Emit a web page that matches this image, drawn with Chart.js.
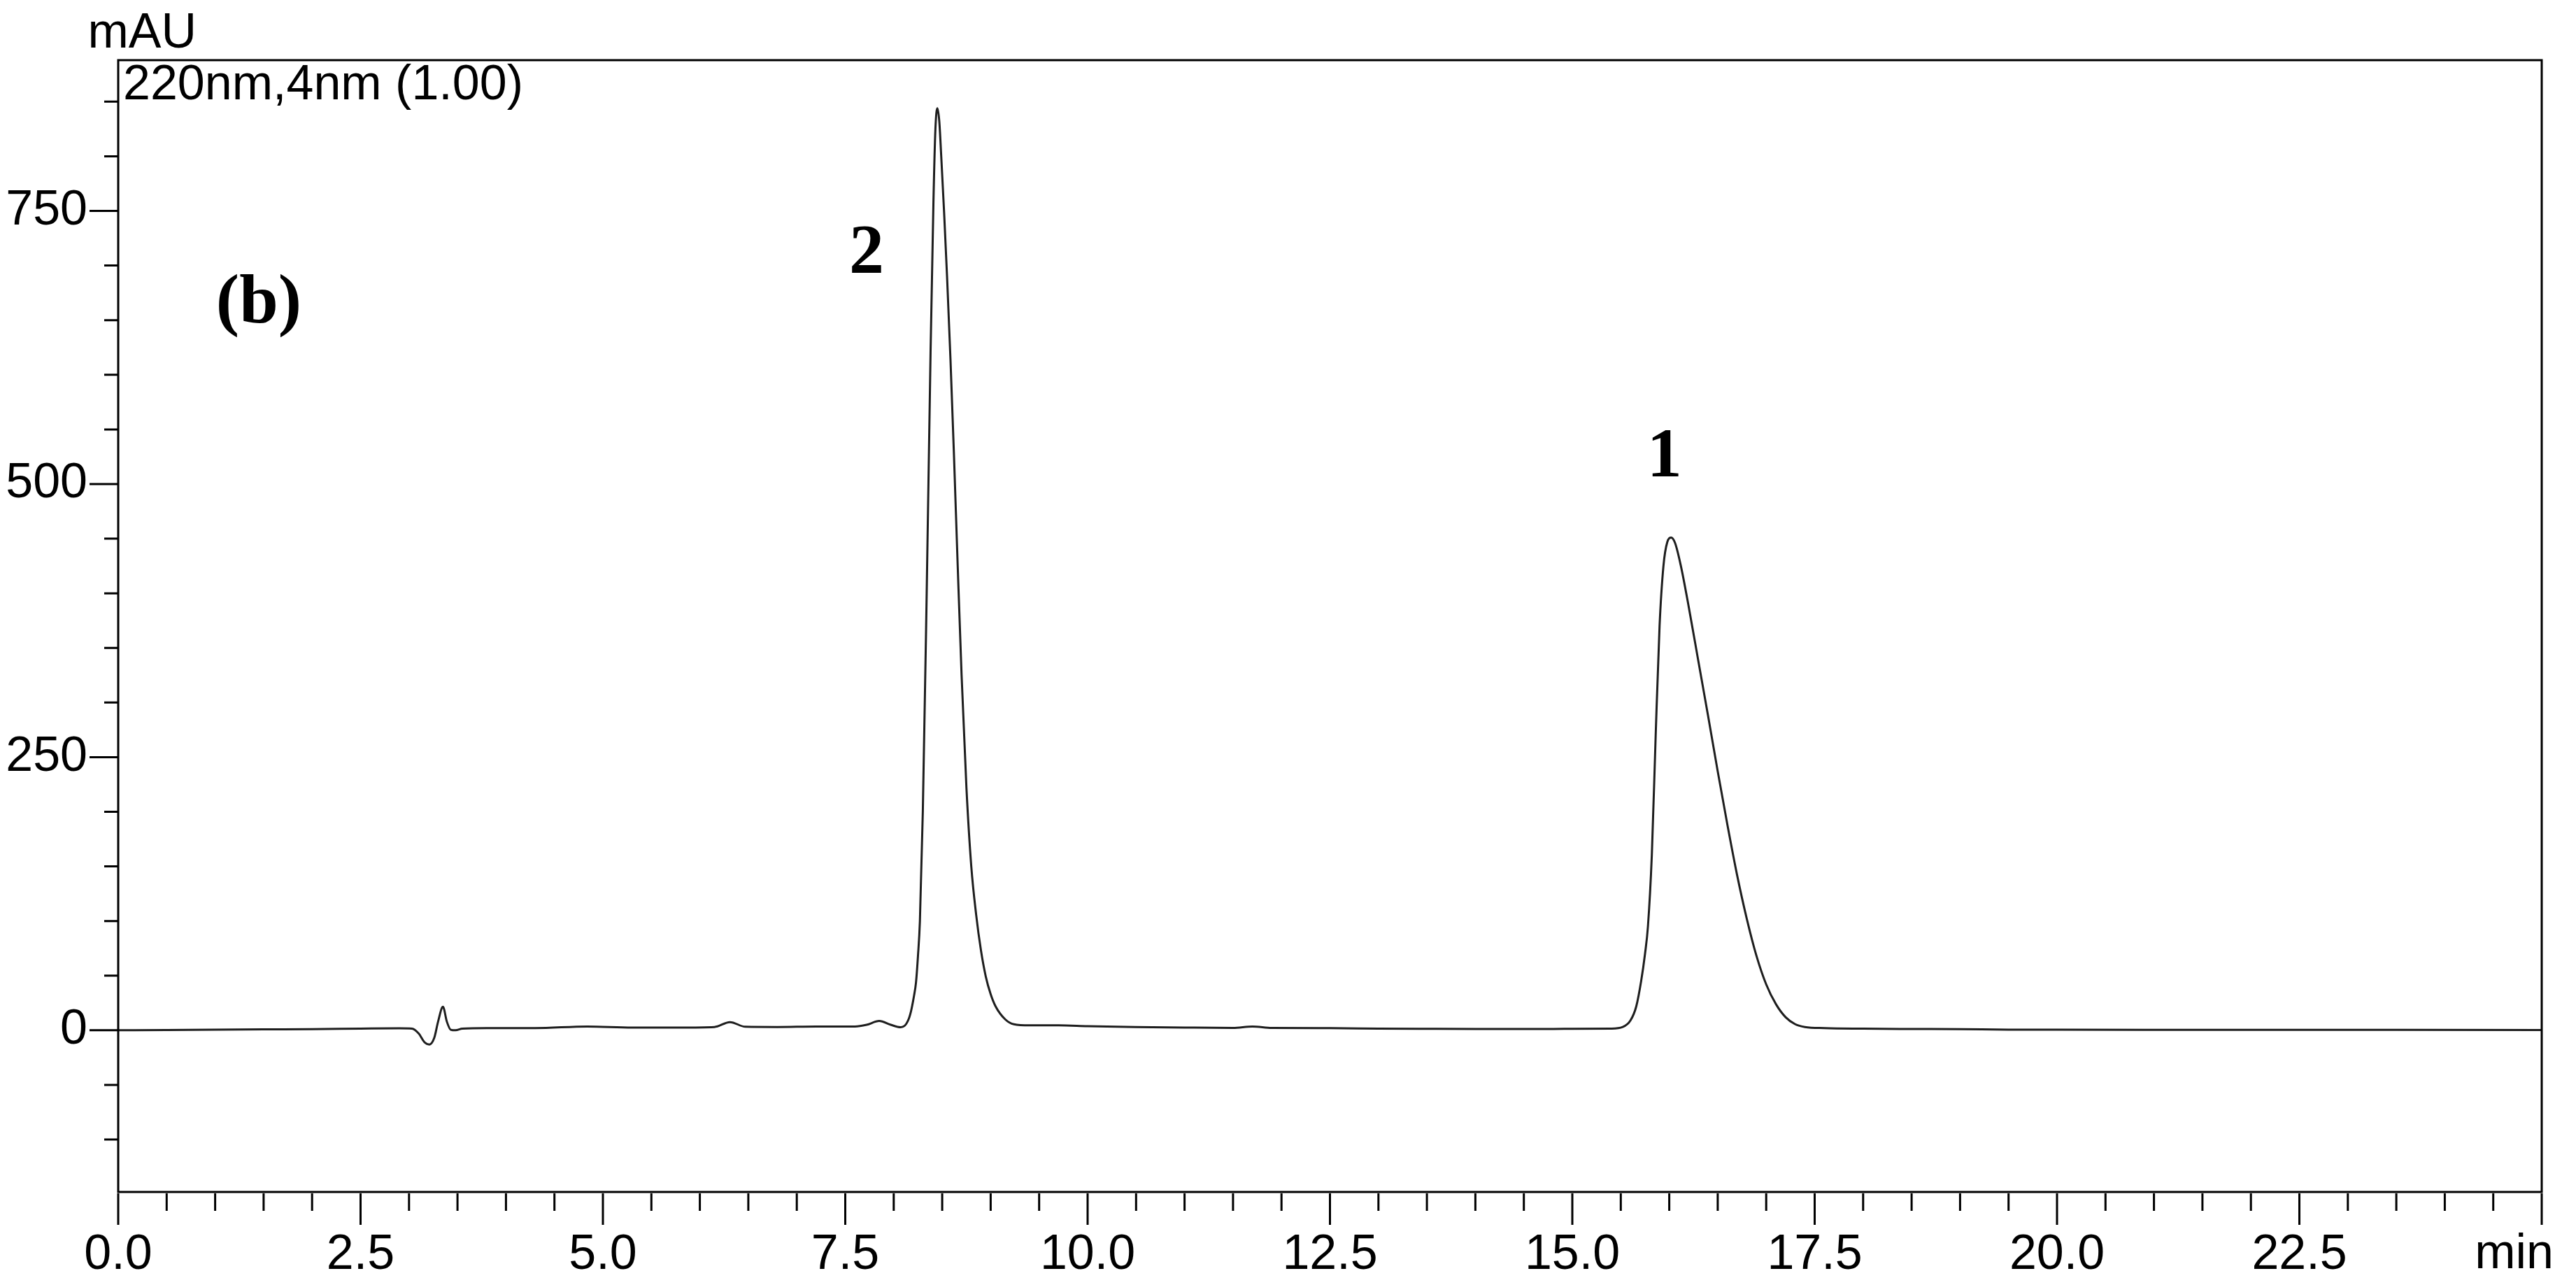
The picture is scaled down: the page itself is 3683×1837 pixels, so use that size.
<!DOCTYPE html>
<html lang="en">
<head>
    <meta charset="UTF-8">
    <title>Chromatogram (b)</title>
    <script src="https://cdn.jsdelivr.net/npm/chart.js"></script>
    <style>
        body {
            margin: 0;
            background-color: #ffffff;
        }
        #chart-container {
            width: 3683px;
            height: 1837px;
        }
    </style>
</head>
<body>

<div id="chart-container">
    <canvas id="chromChart" width="3683" height="1837"></canvas>
</div>

<script>
    // retention time (min) and detector signal (mAU)
    const times = [
        0.0, 0.5, 1.0, 1.5, 2.0, 2.5, 2.9, 3.03, 3.10, 3.16, 3.21, 3.26, 3.30, 3.35, 3.39, 3.43, 3.48, 3.55,
        3.8, 4.3, 4.84, 5.3, 5.8, 6.15, 6.31, 6.47, 6.8, 7.2, 7.6, 7.72, 7.85, 7.97, 8.07, 8.13, 8.17, 8.21,
        8.23, 8.25, 8.27, 8.30, 8.34, 8.38, 8.41, 8.43, 8.45, 8.47, 8.49, 8.52, 8.55, 8.585, 8.62, 8.66, 8.70,
        8.75, 8.80, 8.85, 8.90, 8.95, 9.00, 9.05, 9.15, 9.24, 9.4, 9.7, 10.0, 10.5, 11.0, 11.5, 11.7, 11.9,
        12.5, 13.0, 13.5, 14.0, 14.5, 15.0, 15.4, 15.52, 15.60, 15.66, 15.71, 15.75, 15.78, 15.82, 15.86,
        15.90, 15.94, 15.98, 16.02, 16.06, 16.12, 16.20, 16.30, 16.40, 16.50, 16.60, 16.70, 16.80, 16.90,
        17.00, 17.10, 17.20, 17.30, 17.40, 17.6, 18.0, 18.5, 19.0, 19.5, 20.0, 22.0, 25.0
    ];
    const signal = [
        0, 0.3, 0.5, 0.8, 1.0, 1.5, 1.8, 1.5, -3, -11, -13, -7, 8, 21.5, 8, 0.5, 0, 1.5,
        2, 2, 3.5, 2.5, 2.5, 3, 7.5, 3.2, 3, 3.5, 3.5, 5, 8.5, 5, 2.8, 6, 14.5, 32,
        44, 68, 100, 200, 400, 621, 760, 825, 844, 832, 800, 748, 690, 615, 530, 425, 325,
        222, 150, 106, 73, 49, 33, 22, 10, 5.5, 4.5, 4.5, 3.8, 3, 2.5, 2.2, 3.5, 2.2,
        2, 1.5, 1.3, 1.2, 1.2, 1.3, 1.5, 3, 9, 22, 45, 70, 95, 160, 270,
        370, 425, 447, 451, 446, 425, 388, 338, 288, 237, 188, 142, 102, 68,
        42, 24, 12, 5.5, 3, 2, 1.5, 1.2, 1, 0.6, 0.5, 0.4, 0.3
    ];

    // axis ranges and tick steps
    const xRange = [0, 25];
    const yRange = [-148, 888];
    const xMajorStep = 2.5;
    const xMinorStep = 0.5;
    const yMajorStep = 250;
    const yMinorStep = 50;

    // peak labels
    const peakLabels = ['2', '1', '(b)'];
    const peakLabelAt = [[7.72, 694], [15.95, 507], [1.45, 648]];

    const axisFont = '70px "Liberation Sans", Arial, sans-serif';

    function isMultiple(v, step) {
        return Math.abs(v / step - Math.round(v / step)) < 1e-6;
    }

    // frame, tick marks and loose text
    const decorations = {
        id: 'decorations',
        afterDraw(chart) {
            const ctx = chart.ctx;
            const area = chart.chartArea;
            const xs = chart.scales.x;
            const ys = chart.scales.y;
            ctx.save();
            ctx.strokeStyle = '#000';
            ctx.lineWidth = 3;
            ctx.strokeRect(area.left, area.top, area.right - area.left, area.bottom - area.top);

            ctx.beginPath();
            xs.ticks.forEach(t => {
                const px = xs.getPixelForValue(t.value);
                const len = isMultiple(t.value, xMajorStep) ? 45 : 25;
                ctx.moveTo(px, area.bottom + 2);
                ctx.lineTo(px, area.bottom + 2 + len);
            });
            ys.ticks.forEach(t => {
                if (!isMultiple(t.value, yMinorStep)) return;
                const py = ys.getPixelForValue(t.value);
                const len = isMultiple(t.value, yMajorStep) ? 41 : 20;
                ctx.moveTo(area.left, py);
                ctx.lineTo(area.left - len, py);
            });
            ctx.stroke();

            ctx.fillStyle = '#000';
            ctx.font = axisFont;
            ctx.textBaseline = 'alphabetic';
            ctx.textAlign = 'right';
            ctx.fillText('mAU', 281, 68);
            ctx.fillText('min', 3651, 1813);
            ctx.textAlign = 'left';
            ctx.fillText('220nm,4nm (1.00)', area.left + 7, 142);

            ctx.font = 'bold 100px "Liberation Serif", "Times New Roman", serif';
            ctx.textAlign = 'center';
            peakLabels.forEach((txt, i) => {
                const [t, v] = peakLabelAt[i];
                ctx.fillText(txt, xs.getPixelForValue(t), ys.getPixelForValue(v));
            });
            ctx.restore();
        }
    };

    const ctx = document.getElementById('chromChart').getContext('2d');

    new Chart(ctx, {
        type: 'line',
        data: {
            labels: times,
            datasets: [{
                label: '220nm,4nm (1.00)',
                data: times.map((t, i) => ({ x: t, y: signal[i] })),
                borderColor: '#1e1e1e',
                borderWidth: 3,
                pointRadius: 0,
                cubicInterpolationMode: 'monotone',
                fill: false
            }]
        },
        options: {
            responsive: false,
            animation: false,
            devicePixelRatio: 1,
            layout: {
                padding: { left: 0, top: 82, right: 21, bottom: 0 }
            },
            plugins: {
                legend: { display: false },
                tooltip: { enabled: false }
            },
            scales: {
                x: {
                    type: 'linear',
                    min: xRange[0],
                    max: xRange[1],
                    afterFit(scale) { scale.height = 133; },
                    border: { display: false },
                    grid: { display: false, drawTicks: false },
                    ticks: {
                        stepSize: xMinorStep,
                        autoSkip: false,
                        maxRotation: 0,
                        padding: 49,
                        color: '#000',
                        font: { family: '"Liberation Sans", Arial, sans-serif', size: 70 },
                        callback: function(value) {
                            if (value >= xRange[1]) return '';
                            return isMultiple(value, xMajorStep) ? value.toFixed(1) : '';
                        }
                    }
                },
                y: {
                    type: 'linear',
                    min: yRange[0],
                    max: yRange[1],
                    afterFit(scale) { scale.width = 169; },
                    border: { display: false },
                    grid: { display: false, drawTicks: false },
                    ticks: {
                        stepSize: yMinorStep,
                        includeBounds: false,
                        autoSkip: false,
                        padding: 44,
                        color: '#000',
                        font: { family: '"Liberation Sans", Arial, sans-serif', size: 70 },
                        callback: function(value) {
                            return isMultiple(value, yMajorStep) ? String(value) : '';
                        }
                    }
                }
            }
        },
        plugins: [decorations]
    });
</script>

</body>
</html>
